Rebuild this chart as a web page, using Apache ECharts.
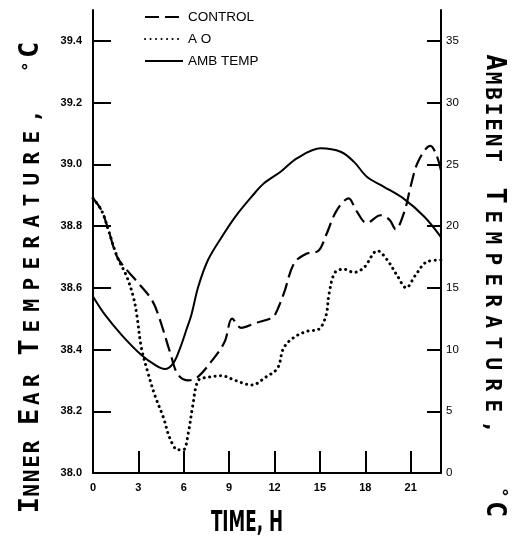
<!DOCTYPE html>
<html><head><meta charset="utf-8">
<script src="https://cdn.jsdelivr.net/npm/echarts@6/dist/echarts.min.js"></script>
<style>html,body{margin:0;padding:0;background:#fff}#c{width:514px;height:553px}</style>
</head><body><div id="c"></div>
<script>
// ---- data ----
const xTicks = [0, 3, 6, 9, 12, 15, 18, 21];
const leftTicks = [38.0, 38.2, 38.4, 38.6, 38.8, 39.0, 39.2, 39.4];
const rightTicks = [0, 5, 10, 15, 20, 25, 30, 35];
const seriesNames = ['CONTROL', 'A O', 'AMB TEMP'];
const xTitle = 'TIME, H';
const leftTitle = 'INNER EAR TEMPERATURE, °C';
const rightTitle = 'AMBIENT TEMPERATURE, °C';

// [hour, inner ear temperature °C]
const controlData = [[0,38.89],[0.57,38.85],[1.0,38.79],[1.6,38.70],[2.2,38.66],[3.0,38.615],[3.9,38.56],[4.4,38.50],[5.1,38.39],[5.6,38.32],[6.3,38.30],[6.9,38.31],[7.8,38.36],[8.7,38.425],[9.2,38.50],[9.8,38.47],[10.7,38.485],[11.7,38.50],[12.0,38.51],[12.6,38.58],[13.3,38.68],[14.1,38.71],[14.9,38.72],[15.4,38.77],[16.1,38.85],[16.9,38.89],[17.4,38.85],[18.1,38.81],[19.0,38.835],[19.6,38.82],[20.0,38.79],[20.6,38.85],[21.0,38.93],[21.5,39.01],[22.3,39.06],[22.7,39.03],[23.0,38.98]];
const aoData = [[0,38.89],[0.57,38.85],[1.0,38.79],[1.6,38.70],[2.2,38.64],[2.67,38.57],[2.9,38.51],[3.2,38.405],[3.66,38.32],[4.1,38.25],[4.65,38.18],[5.1,38.11],[5.6,38.075],[5.97,38.075],[6.3,38.13],[6.6,38.22],[6.96,38.30],[7.6,38.31],[8.5,38.315],[9.4,38.30],[10.5,38.285],[11.4,38.31],[12.2,38.34],[12.6,38.405],[13.3,38.44],[14.2,38.46],[14.9,38.465],[15.4,38.51],[15.6,38.58],[16.0,38.65],[16.6,38.66],[17.25,38.65],[17.9,38.665],[18.8,38.72],[19.45,38.69],[20.1,38.64],[20.7,38.60],[21.3,38.64],[22.1,38.685],[23.0,38.69]];
// [hour, ambient temperature °C]
const ambData = [[0,14.3],[0.8,12.8],[1.9,11.17],[3.2,9.55],[4.1,8.75],[4.75,8.42],[5.3,8.88],[5.75,10.1],[6.2,11.7],[6.5,12.8],[6.96,15.1],[7.6,17.25],[8.5,19.1],[9.4,20.75],[10.5,22.4],[11.3,23.46],[12.4,24.4],[13.5,25.5],[15.05,26.3],[16.4,26.0],[17.25,25.2],[18.1,24.0],[19.2,23.2],[20.55,22.2],[21.9,20.75],[23.0,19.1]];

// ---- styling ----
const sans = "'Liberation Sans',Arial,sans-serif";
const mono = "'DejaVu Sans Mono','Liberation Mono',monospace";
const black = '#000';

// small-caps title built as rich-text tokens; per-word character cell widths and gaps
function smallCaps(str, cellWidths, gapWidths, degAlign) {
  const words = str.split(' ');
  const rich = {};
  let text = '';
  words.forEach((w, wi) => {
    if (wi > 0) {
      const gs = 'g' + wi;
      rich[gs] = {fontFamily: mono, fontSize: 20, width: gapWidths[wi - 1], align: 'center', verticalAlign: 'bottom'};
      text += '{' + gs + '| }';
    }
    const cw = cellWidths[wi];
    rich['b' + wi] = {fontFamily: mono, fontWeight: 'bold', fontSize: 27, width: cw, align: 'center', verticalAlign: 'bottom', fill: black};
    rich['s' + wi] = {fontFamily: mono, fontWeight: 'bold', fontSize: 21, width: cw, align: 'center', verticalAlign: 'bottom', fill: black};
    rich['d' + wi] = {fontFamily: mono, fontWeight: 'bold', fontSize: 17, width: 14, align: 'center', verticalAlign: degAlign, fill: black};
    for (let i = 0; i < w.length; i++) {
      const ch = w[i];
      const prev = i === 0 ? ' ' : w[i - 1];
      let st;
      if (ch === '°') st = 'd' + wi;
      else if (prev === ' ' || prev === '°') st = 'b' + wi;
      else st = 's' + wi;
      text += '{' + st + '|' + ch + '}';
    }
  });
  return {text, rich};
}
const leftT = smallCaps(leftTitle, [14.5, 18, 21, 20], [14, 14, 32], 'middle');
const rightT = smallCaps(rightTitle, [15.5, 21, 20], [22, 48], 'top');

const chart = echarts.init(document.getElementById('c'), null, {renderer: 'canvas'});
chart.setOption({
  animation: false,
  backgroundColor: '#fff',
  grid: {left: 93, right: 73, top: 10, bottom: 80},
  legend: {
    orient: 'vertical', left: 144, top: 10, padding: 0,
    itemWidth: 38, itemHeight: 14, itemGap: 8,
    itemStyle: {color: 'rgba(0,0,0,0)', borderColor: 'rgba(0,0,0,0)', borderWidth: 0},
    textStyle: {fontSize: 13.5, color: black, fontFamily: sans},
    data: seriesNames
  },
  xAxis: {
    type: 'value', min: 0, max: 23, position: 'bottom',
    axisLine: {show: true, onZero: false, lineStyle: {color: black, width: 2}},
    axisTick: {show: true, inside: true, length: 22, customValues: xTicks, lineStyle: {color: black, width: 2}},
    axisLabel: {customValues: xTicks, color: black, fontSize: 11, fontWeight: 'bold', fontFamily: sans, margin: 9},
    splitLine: {show: false}
  },
  yAxis: [{
    type: 'value', min: 38, max: 39.5, position: 'left',
    axisLine: {show: true, onZero: false, lineStyle: {color: black, width: 2}},
    axisTick: {show: true, inside: true, length: 18, customValues: leftTicks, lineStyle: {color: black, width: 2}},
    axisLabel: {customValues: leftTicks, formatter: v => v.toFixed(1), color: black, fontSize: 11, fontWeight: 'bold', fontFamily: sans, margin: 11},
    splitLine: {show: false}
  }, {
    type: 'value', min: 0, max: 37.5, position: 'right',
    axisLine: {show: true, onZero: false, lineStyle: {color: black, width: 2}},
    axisTick: {show: true, inside: true, length: 14, customValues: rightTicks, lineStyle: {color: black, width: 2}},
    axisLabel: {customValues: rightTicks, color: black, fontSize: 11.5, fontFamily: sans, margin: 5},
    splitLine: {show: false}
  }],
  graphic: [
    {type: 'text', x: 31, y: 276, rotation: Math.PI / 2,
     style: {text: leftT.text, rich: leftT.rich, align: 'center', verticalAlign: 'middle', fill: black}},
    {type: 'text', x: 494, y: 287, rotation: -Math.PI / 2,
     style: {text: rightT.text, rich: rightT.rich, align: 'center', verticalAlign: 'middle', fill: black}},
    {type: 'text', x: 247, y: 524, scaleX: 0.6,
     style: {text: xTitle, fontFamily: "'DejaVu Sans',sans-serif", fontWeight: 'bold', fontSize: 28, align: 'center', verticalAlign: 'middle', fill: black}}
  ],
  series: [{
    name: seriesNames[0], type: 'line', data: controlData, yAxisIndex: 0,
    symbol: 'none', smooth: 0.35, itemStyle: {color: black},
    lineStyle: {color: black, width: 2.2, type: [14, 6]}
  }, {
    name: seriesNames[1], type: 'line', data: aoData, yAxisIndex: 0,
    symbol: 'none', smooth: 0.35, itemStyle: {color: black},
    lineStyle: {color: black, width: 3, type: [0.1, 5.4], cap: 'round'}
  }, {
    name: seriesNames[2], type: 'line', data: ambData, yAxisIndex: 1,
    symbol: 'none', smooth: 0.35, itemStyle: {color: black},
    lineStyle: {color: black, width: 2}
  }]
});
</script></body></html>
